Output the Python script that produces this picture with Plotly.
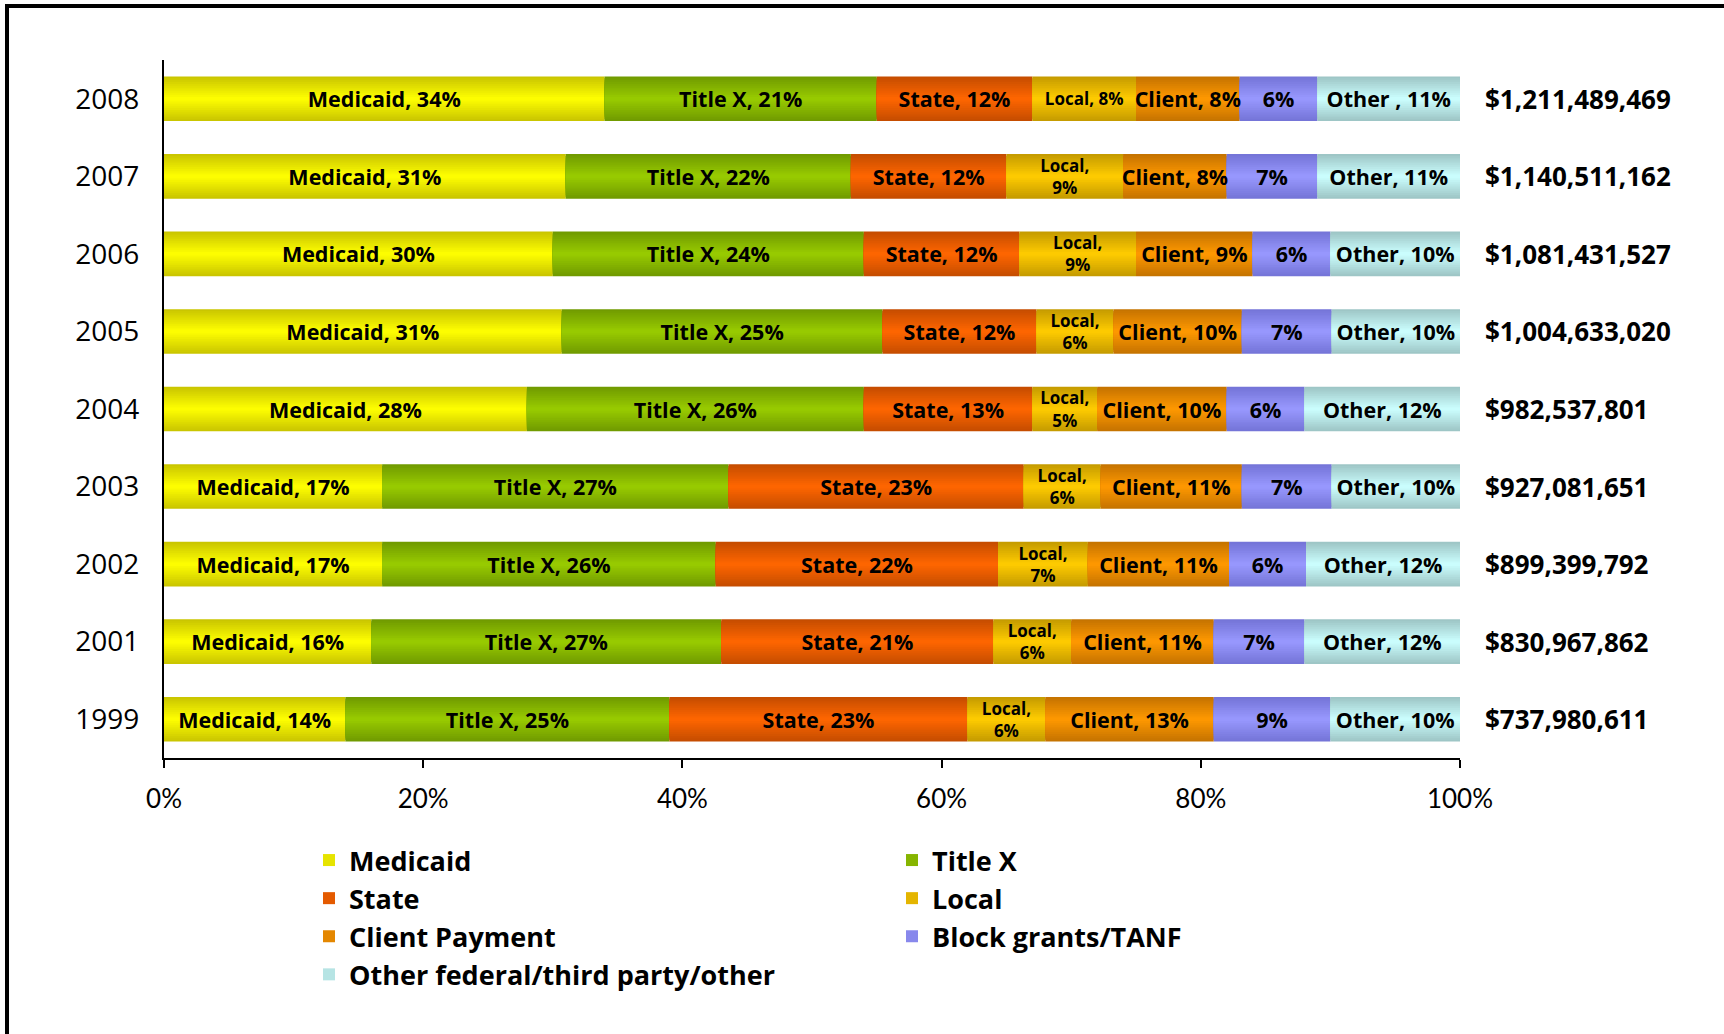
import plotly.graph_objects as go

# Funding sources for family planning, share of total revenue by year
years = ["1999", "2001", "2002", "2003", "2004", "2005", "2006", "2007", "2008"]

series_names = [
    "Medicaid",
    "Title X",
    "State",
    "Local",
    "Client Payment",
    "Block grants/TANF",
    "Other federal/third party/other",
]

medicaid = [14, 16, 17, 17, 28, 31, 30, 31, 34]
title_x = [25, 27, 26, 27, 26, 25, 24, 22, 21]
state = [23, 21, 22, 23, 13, 12, 12, 12, 12]
local = [6, 6, 7, 6, 5, 6, 9, 9, 8]
client = [13, 11, 11, 11, 10, 10, 9, 8, 8]
block_grants = [9, 7, 6, 7, 6, 7, 6, 7, 6]
other = [10, 12, 12, 10, 12, 10, 10, 11, 11]

totals = [
    "$737,980,611",
    "$830,967,862",
    "$899,399,792",
    "$927,081,651",
    "$982,537,801",
    "$1,004,633,020",
    "$1,081,431,527",
    "$1,140,511,162",
    "$1,211,489,469",
]

# Short names used inside the bar segments
label_prefix = ["Medicaid, ", "Title X, ", "State, ", "Local,<br>", "Client, ", "", "Other, "]
local_prefix_2008 = "Local, "
other_prefix_2008 = "Other , "

series_values = [medicaid, title_x, state, local, client, block_grants, other]

# Segment colours: bright centre, darker top/bottom edge
mid_colors = ["#FFFF00", "#99CC00", "#FF6600", "#FFCC00", "#FF9900", "#9999FF", "#CCFFFF"]
edge_colors = ["#C8C400", "#6F9900", "#C44C00", "#C49A00", "#C47200", "#7373D6", "#9CC4C4"]

FONT = "Open Sans"
TICK_FONT = "Lato"
PX_L, PX_R, PX_T, PX_B = 164, 1460, 60, 758
W_PX, H_PX = 1724, 1034


def px_x(px):
    return (px - PX_L) / (PX_R - PX_L)


def px_y(py):
    return (PX_B - py) / (PX_B - PX_T)


def hex_rgb(h):
    h = h.lstrip("#")
    return tuple(int(h[i:i + 2], 16) for i in (0, 2, 4))


def blend(c0, c1, t):
    a, b = hex_rgb(c0), hex_rgb(c1)
    return "rgb({},{},{})".format(*[round(a[j] + (b[j] - a[j]) * t) for j in range(3)])


# 100% stacked: normalise each year to its row total
row_sums = [sum(s[j] for s in series_values) for j in range(len(years))]
shares = [[s[j] / row_sums[j] * 100 for j in range(len(years))] for s in series_values]
bases = []
running = [0.0] * len(years)
for sh in shares:
    bases.append(list(running))
    running = [running[j] + sh[j] for j in range(len(years))]

BAR_W = 0.575
N_LAYERS = 12
legend_of = ["legend", "legend2", "legend", "legend2", "legend", "legend2", "legend"]

fig = go.Figure()

for i, name in enumerate(series_names):
    for k in range(N_LAYERS):
        t = (k + 0.5) / N_LAYERS
        fig.add_trace(go.Bar(
            y=years, x=shares[i], base=bases[i], orientation="h",
            width=BAR_W * (1 - k / N_LAYERS),
            marker=dict(color=blend(edge_colors[i], mid_colors[i], t), line_width=0),
            name=name, legendgroup=name, legend=legend_of[i],
            showlegend=(k == N_LAYERS // 2),
            hoverinfo="skip",
        ))

# Segment labels on transparent bars drawn on top of the shading
for i, name in enumerate(series_names):
    texts, sizes = [], []
    for j, yr in enumerate(years):
        prefix = label_prefix[i]
        if yr == "2008" and i == 3:
            prefix = local_prefix_2008
        if yr == "2008" and i == 6:
            prefix = other_prefix_2008
        texts.append(f"{prefix}{series_values[i][j]}%")
        sizes.append(17 if i == 3 else 21.5)
    fig.add_trace(go.Bar(
        y=years, x=shares[i], base=bases[i], orientation="h", width=BAR_W,
        marker=dict(color="rgba(0,0,0,0)", line_width=0),
        text=texts, textposition="inside", insidetextanchor="middle",
        textangle=0, constraintext="none",
        textfont=dict(family=FONT, size=sizes, color="black", weight="bold"),
        showlegend=False, hoverinfo="skip", name=name,
    ))

# Total revenue per year to the right of each bar (y given as category index)
for j, yr in enumerate(years):
    fig.add_annotation(
        x=1, xref="paper", y=j, yref="y", xshift=23, xanchor="left",
        text=totals[j], showarrow=False,
        font=dict(family=FONT, size=26, color="black", weight="bold"),
    )

# Frame around the chart
fig.add_shape(
    type="rect", xref="paper", yref="paper",
    x0=px_x(7), y0=px_y(6), x1=px_x(W_PX + 20), y1=px_y(H_PX + 20),
    line=dict(color="black", width=4), fillcolor="rgba(0,0,0,0)", layer="above",
)

legend_font = dict(family=FONT, size=27, color="black", weight="bold")

fig.update_layout(
    width=W_PX, height=H_PX,
    margin=dict(l=PX_L, r=W_PX - PX_R, t=PX_T, b=H_PX - PX_B),
    paper_bgcolor="white", plot_bgcolor="white",
    barmode="overlay",
    xaxis=dict(
        range=[0, 100], tickvals=[0, 20, 40, 60, 80, 100],
        ticktext=["0%", "20%", "40%", "60%", "80%", "100%"],
        ticks="outside", ticklen=8, tickwidth=2, tickcolor="black",
        showline=True, linewidth=2, linecolor="black",
        showgrid=False, zeroline=False, ticklabelstandoff=9,
        tickfont=dict(family=TICK_FONT, size=26, color="black"),
        fixedrange=True,
    ),
    yaxis=dict(
        type="category", categoryorder="array", categoryarray=years,
        range=[-0.5, len(years) - 0.5],
        showline=True, linewidth=2, linecolor="black", ticks="",
        showgrid=False, zeroline=False, ticklabelstandoff=17,
        tickfont=dict(family=FONT, size=28, color="black"),
        fixedrange=True,
    ),
    legend=dict(
        x=px_x(309), y=px_y(836), xanchor="left", yanchor="top",
        orientation="v", traceorder="grouped", tracegroupgap=0,
        font=legend_font, bgcolor="rgba(0,0,0,0)",
    ),
    legend2=dict(
        x=px_x(892), y=px_y(836), xanchor="left", yanchor="top",
        orientation="v", traceorder="grouped", tracegroupgap=0,
        font=legend_font, bgcolor="rgba(0,0,0,0)",
    ),
    showlegend=True,
)

fig.write_html("out.html")
